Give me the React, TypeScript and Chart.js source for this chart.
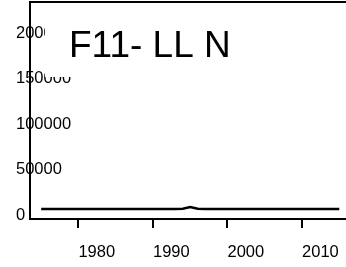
import React, { useEffect, useRef } from "react";
import { Chart, registerables } from "chart.js";

Chart.register(...registerables);

const years = [
  1975, 1976, 1977, 1978, 1979, 1980, 1981, 1982, 1983, 1984,
  1985, 1986, 1987, 1988, 1989, 1990, 1991, 1992, 1993, 1994,
  1995, 1996, 1997, 1998, 1999, 2000, 2001, 2002, 2003, 2004,
  2005, 2006, 2007, 2008, 2009, 2010, 2011, 2012, 2013, 2014, 2015,
];
const values = [
  6600, 6600, 6600, 6600, 6600, 6600, 6600, 6600, 6600, 6600,
  6600, 6600, 6600, 6600, 6600, 6600, 6600, 6600, 6600, 6800,
  8800, 6800, 6600, 6600, 6600, 6600, 6600, 6600, 6600, 6600,
  6600, 6600, 6600, 6600, 6600, 6600, 6600, 6600, 6600, 6600, 6600,
];
const xTicks = [1980, 1990, 2000, 2010];
const yTicks = [0, 50000, 100000, 150000, 200000];
const titleText = "F11- LL N";

const FONT = "'Liberation Sans', Arial, sans-serif";

export default function App() {
  const ref = useRef<HTMLCanvasElement | null>(null);

  useEffect(() => {
    if (!ref.current) return;
    const titlePlugin = {
      id: "innerTitle",
      afterDraw(chart: any) {
        const ctx = chart.ctx;
        ctx.save();
        ctx.fillStyle = "#ffffff";
        ctx.fillRect(45, 4, 205, 73);
        ctx.fillStyle = "#000000";
        ctx.font = `37px ${FONT}`;
        ctx.textBaseline = "alphabetic";
        ctx.textAlign = "left";
        ctx.fillText(titleText, 69, 57);
        ctx.restore();
      },
    };
    const chart = new Chart(ref.current, {
      type: "line",
      data: {
        datasets: [
          {
            data: years.map((y, i) => ({ x: y, y: values[i] })),
            borderColor: "#000000",
            borderWidth: 2.5,
            pointRadius: 0,
            tension: 0,
            fill: false,
          },
        ],
      },
      options: {
        responsive: false,
        animation: false,
        layout: { padding: { left: 16, top: 2, right: 0, bottom: 0 } },
        plugins: { legend: { display: false }, tooltip: { enabled: false }, title: { display: false } },
        scales: {
          x: {
            type: "linear",
            position: "bottom",
            min: 1973.5,
            max: 2015.9,
            afterBuildTicks: (s: any) => {
              s.ticks = xTicks.map((v) => ({ value: v }));
            },
            afterFit: (s: any) => {
              s.height = 48;
              s.paddingLeft = 0;
              s.paddingRight = 0;
            },
            border: { display: true, color: "#000", width: 2 },
            grid: { drawOnChartArea: false, drawTicks: true, tickLength: 9, color: "#000", lineWidth: 2 },
            ticks: {
              color: "#000",
              font: { family: FONT, size: 16.5 },
              padding: 15,
              align: "start",
              maxRotation: 0,
              autoSkip: false,
              callback: (v: any) => String(v),
            },
          },
          x2: {
            type: "linear",
            position: "top",
            min: 1973.5,
            max: 2015.9,
            afterFit: (s: any) => {
              s.height = 0;
              s.paddingLeft = 0;
              s.paddingRight = 0;
            },
            border: { display: true, color: "#000", width: 2 },
            grid: { drawOnChartArea: false, drawTicks: false },
            ticks: { display: false },
          },
          y: {
            type: "linear",
            position: "left",
            min: -4408,
            max: 234160,
            afterBuildTicks: (s: any) => {
              s.ticks = yTicks.map((v) => ({ value: v }));
            },
            afterFit: (s: any) => {
              s.width = 14;
              s.paddingTop = 0;
              s.paddingBottom = 0;
            },
            border: { display: true, color: "#000", width: 2 },
            grid: { drawOnChartArea: false, drawTicks: false },
            ticks: {
              color: "#000",
              font: { family: FONT, size: 16.5 },
              mirror: true,
              crossAlign: "near",
              padding: -14,
              autoSkip: false,
              callback: (v: any) => String(v),
            },
          },
        },
      },
      plugins: [titlePlugin],
    } as any);
    return () => chart.destroy();
  }, []);

  return (
    <div style={{ position: "absolute", left: 0, top: 0, width: 346, height: 267, background: "#fff" }}>
      <canvas ref={ref} width={346} height={267} style={{ display: "block", width: 346, height: 267 }} />
    </div>
  );
}
